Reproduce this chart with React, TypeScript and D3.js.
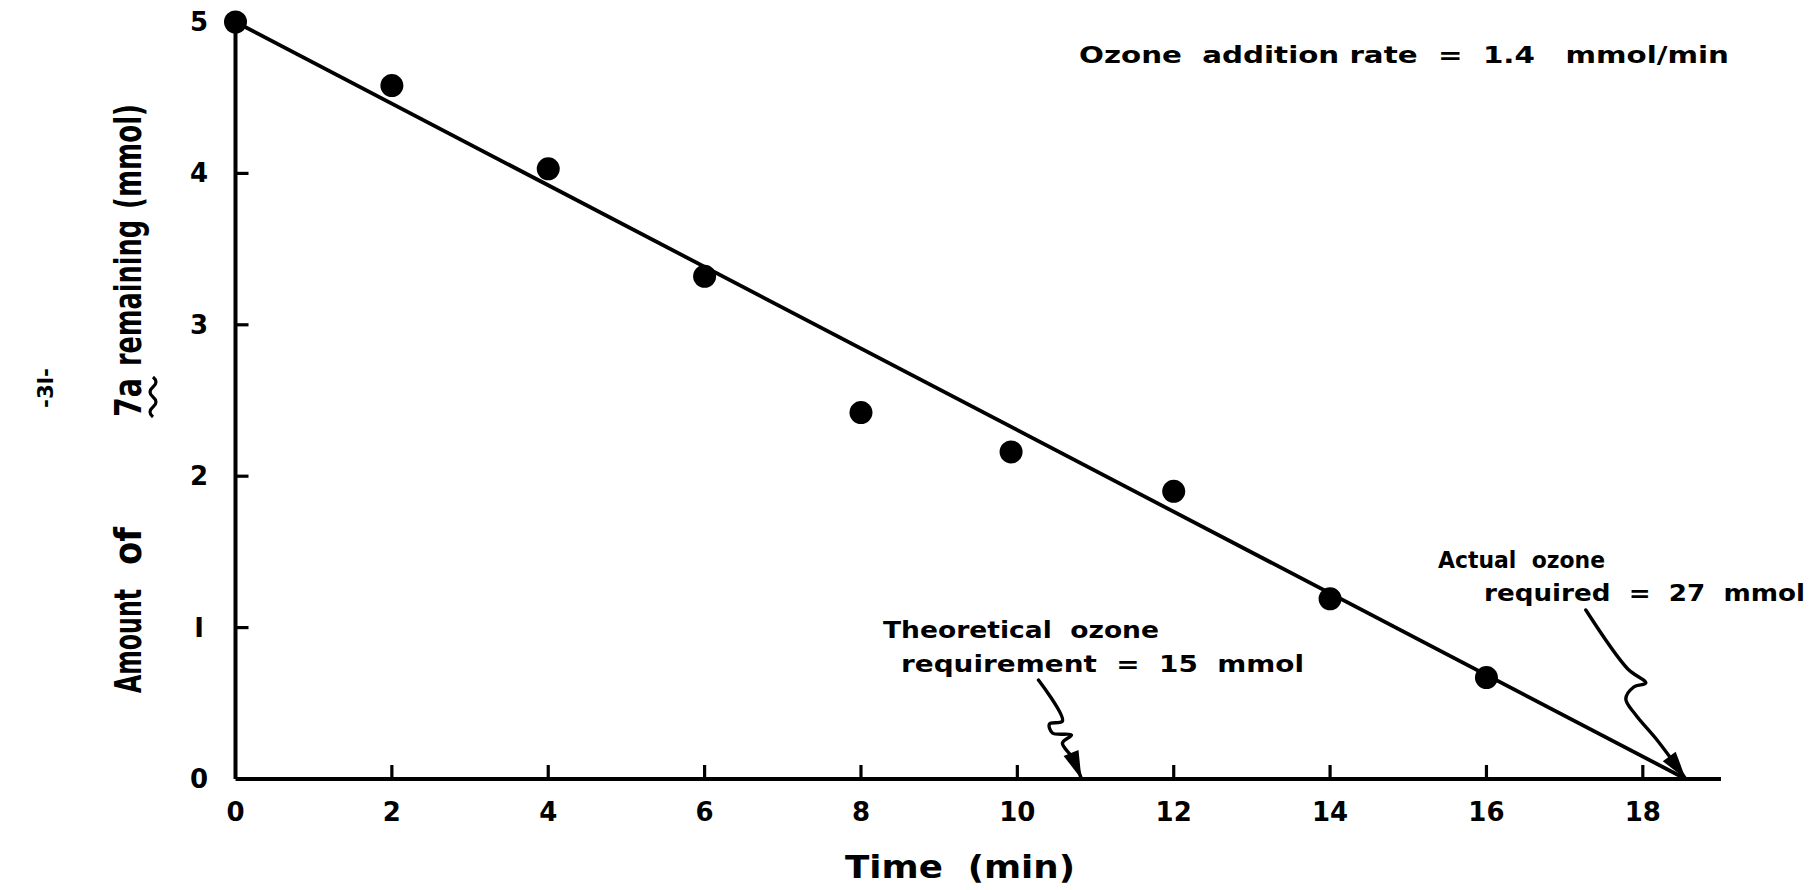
import React from "react";
import * as d3 from "d3";

// ---- data ----
const timeMin = [0, 2, 4, 6, 8, 9.92, 12, 14, 16];
const remainingMmol = [5.0, 4.58, 4.03, 3.32, 2.42, 2.16, 1.9, 1.19, 0.67];
const fitTime = [0, 18.55];
const fitAmount = [5, 0];
const xTickValues = [0, 2, 4, 6, 8, 10, 12, 14, 16, 18];
const yTickValues = [0, 1, 2, 3, 4, 5];
const theoreticalEndTime = 10.82;
const actualEndTime = 18.55;

const W = 1817;
const H = 890;
const FONT = "'DejaVu Sans', 'Liberation Sans', sans-serif";

const x = d3.scaleLinear().domain([0, 19]).range([235.5, 1721]);
const y = d3.scaleLinear().domain([0, 5]).range([779, 22]);

function Arrow({ pts }: { pts: [number, number][] }) {
  const line = d3.line().curve(d3.curveCatmullRom.alpha(0.5));
  const tip = pts[pts.length - 1];
  const prev = pts[pts.length - 2];
  const ang = Math.atan2(tip[1] - prev[1], tip[0] - prev[0]);
  const L = 28;
  const Wd = 8;
  const bx = tip[0] - L * Math.cos(ang);
  const by = tip[1] - L * Math.sin(ang);
  const p1 = [bx + Wd * Math.sin(ang), by - Wd * Math.cos(ang)];
  const p2 = [bx - Wd * Math.sin(ang), by + Wd * Math.cos(ang)];
  return (
    <g>
      <path d={line(pts) || ""} fill="none" stroke="#000" strokeWidth={3.4} strokeLinecap="round" strokeLinejoin="round" />
      <path d={`M${tip[0]},${tip[1]}L${p1[0]},${p1[1]}L${p2[0]},${p2[1]}Z`} fill="#000" />
    </g>
  );
}

export default function App() {
  const x0 = x(0);
  const y0 = y(0);
  const fitLine = d3.line<number>()
    .x((_, i) => x(fitTime[i]))
    .y((_, i) => y(fitAmount[i]));

  const tT = [x(theoreticalEndTime), y0];
  const theoreticalPts: [number, number][] = [
    [tT[0] - 43, tT[1] - 99],
    [tT[0] - 19, tT[1] - 58],
    [tT[0] - 32, tT[1] - 55],
    [tT[0] - 29, tT[1] - 46],
    [tT[0] - 10, tT[1] - 44],
    [tT[0] - 19, tT[1] - 36],
    [tT[0] - 8, tT[1] - 20],
    [tT[0], tT[1]],
  ];
  const aT = [x(actualEndTime), y0];
  const actualPts: [number, number][] = [
    [aT[0] - 100, aT[1] - 169],
    [aT[0] - 58, aT[1] - 110],
    [aT[0] - 40, aT[1] - 96],
    [aT[0] - 52, aT[1] - 92],
    [aT[0] - 60, aT[1] - 80],
    [aT[0] - 50, aT[1] - 64],
    [aT[0] - 28, aT[1] - 38],
    [aT[0], aT[1]],
  ];

  const tickStyle = { fontFamily: FONT, fontWeight: 700, fontSize: 26 } as const;
  const annStyle = { fontFamily: FONT, fontWeight: 700, fontSize: 23, whiteSpace: "pre" } as const;

  // y-label pieces: [text, startScreenY, length]
  const yLabelPieces: [string, number, number][] = [
    ["Amount", 693, 104],
    ["of", 565, 38],
    ["7a", 417, 39],
    ["remaining", 366, 146],
    ["(mmol)", 209, 105],
  ];

  return (
    <svg width={W} height={H} style={{ position: "absolute", left: 0, top: 0, background: "#fff" }}>
      <rect width={W} height={H} fill="#fff" />
      {/* axes */}
      <line x1={x0} y1={y0} x2={x.range()[1]} y2={y0} stroke="#000" strokeWidth={4} />
      <line x1={x0} y1={y0} x2={x0} y2={y(5)} stroke="#000" strokeWidth={4} />
      {xTickValues.map((t) => (
        <g key={"xt" + t}>
          {t > 0 && <line x1={x(t)} x2={x(t)} y1={y0} y2={y0 - 14} stroke="#000" strokeWidth={3.2} />}
          <text x={x(t)} y={y0 + 42} textAnchor="middle" style={tickStyle}>{t}</text>
        </g>
      ))}
      {yTickValues.map((t) => (
        <g key={"yt" + t}>
          {t > 0 && t < 5 && <line x1={x0} x2={x0 + 13} y1={y(t)} y2={y(t)} stroke="#000" strokeWidth={3.2} />}
          <text x={199} y={y(t) + 9} textAnchor="middle" style={tickStyle}>{t === 1 ? "I" : t}</text>
        </g>
      ))}

      {/* fit line */}
      <path d={fitLine(fitTime) || ""} fill="none" stroke="#000" strokeWidth={3.8} />

      {/* points */}
      {timeMin.map((t, i) => (
        <circle key={"p" + i} cx={x(t)} cy={y(remainingMmol[i])} r={11.5} fill="#000" />
      ))}

      {/* annotations */}
      <text x={1079} y={63} textLength={650} lengthAdjust="spacingAndGlyphs" style={annStyle}>
        {"Ozone  addition rate  =  1.4   mmol/min"}
      </text>
      <text x={883} y={638} textLength={276} lengthAdjust="spacingAndGlyphs" style={annStyle}>
        {"Theoretical  ozone"}
      </text>
      <text x={901} y={672} textLength={403} lengthAdjust="spacingAndGlyphs" style={annStyle}>
        {"requirement  =  15  mmol"}
      </text>
      <text x={1438} y={568} textLength={167} lengthAdjust="spacingAndGlyphs" style={annStyle}>
        {"Actual  ozone"}
      </text>
      <text x={1484} y={601} textLength={321} lengthAdjust="spacingAndGlyphs" style={annStyle}>
        {"required  =  27  mmol"}
      </text>
      <Arrow pts={theoreticalPts} />
      <Arrow pts={actualPts} />

      {/* x label */}
      <text x={845} y={878} textLength={230} lengthAdjust="spacingAndGlyphs"
        style={{ fontFamily: FONT, fontWeight: 700, fontSize: 32, whiteSpace: "pre" }}>
        {"Time  (min)"}
      </text>

      {/* y label */}
      <g transform="translate(141,0) rotate(-90)">
        {yLabelPieces.map(([s, sy, len]) => (
          <text key={s} x={-sy} y={0} textLength={len} lengthAdjust="spacingAndGlyphs"
            style={{ fontFamily: FONT, fontWeight: 700, fontSize: 38 }}>{s}</text>
        ))}
        <path d="M-417,12 q5,-6 10,0 t10,0 t10,0 t10,0" fill="none" stroke="#000" strokeWidth={3.2} />
      </g>

      {/* page number */}
      <g transform="translate(53,408) rotate(-90)">
        <text x={0} y={0} textLength={40} lengthAdjust="spacingAndGlyphs"
          style={{ fontFamily: FONT, fontWeight: 700, fontSize: 22 }}>-3l-</text>
      </g>
    </svg>
  );
}
